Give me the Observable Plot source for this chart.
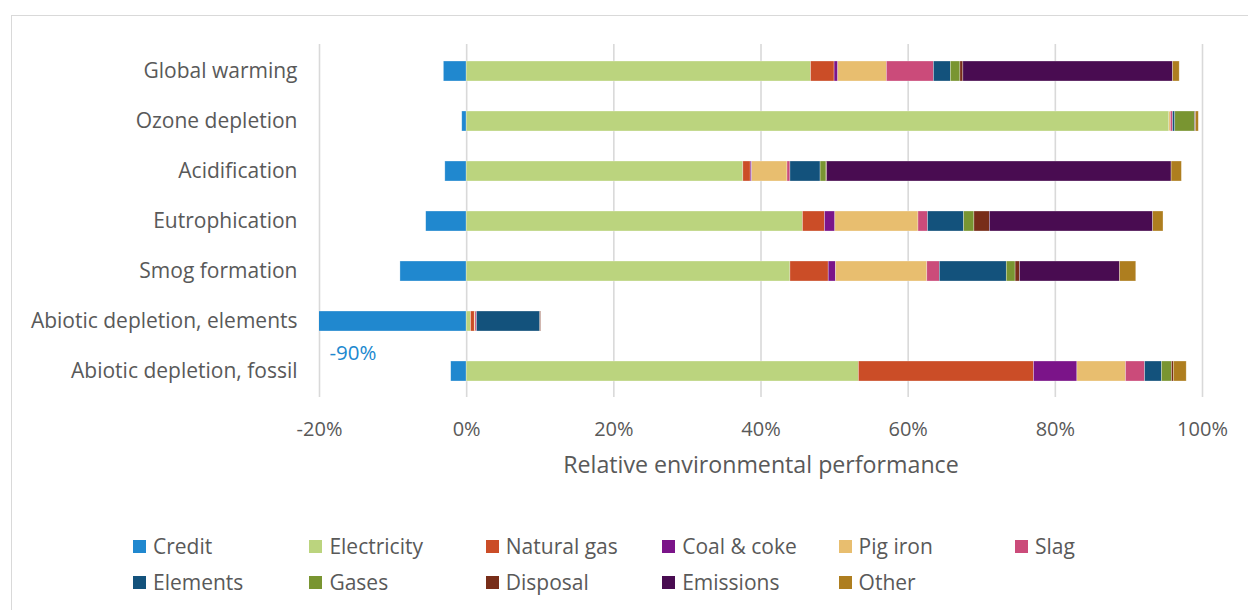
<!DOCTYPE html>
<html>
<head>
<meta charset="utf-8">
<script src="https://cdn.jsdelivr.net/npm/d3@7"></script>
<script src="https://cdn.jsdelivr.net/npm/@observablehq/plot@0.6"></script>
<style>
  html, body { margin: 0; padding: 0; background: #fff; }
  body { width: 1248px; height: 610px; position: relative; overflow: hidden; font-family: "Open Sans", Lato, sans-serif; }
  #frame { position: absolute; left: 11px; top: 15px; width: 1250px; height: 610px; border: 1.5px solid #d9d9d9; box-sizing: border-box; }
  #chart { position: absolute; left: 0; top: 0; }
  #legend { position: absolute; left: 0; top: 532px; width: 1248px; }
  .item { position: absolute; display: flex; align-items: center; font-size: 21px; color: #595959; white-space: nowrap; }
  .sw { width: 13px; height: 13px; margin-right: 7px; flex: none; }
</style>
</head>
<body>
<div id="frame"></div>
<div id="chart"></div>
<div id="legend"></div>
<script>
// Impact categories, top to bottom
const categories = [
  "Global warming",
  "Ozone depletion",
  "Acidification",
  "Eutrophication",
  "Smog formation",
  "Abiotic depletion, elements",
  "Abiotic depletion, fossil"
];

// Contribution groups, in stacking order
const series = ["Credit", "Electricity", "Natural gas", "Coal & coke", "Pig iron", "Slag",
                "Elements", "Gases", "Disposal", "Emissions", "Other"];
const colors = ["#2088cf", "#bbd47e", "#cb4d27", "#7b1489", "#e8be6f", "#cb4b7a",
                "#13527c", "#799531", "#782d19", "#490c51", "#ae7e1f"];

// Share of each group per category (%), one value per category
const credit      = [-3.1, -0.6, -2.9, -5.5, -9.0, -90, -2.1];
const electricity = [46.8, 95.5, 37.6, 45.7, 44.0, 0.6, 53.3];
const naturalGas  = [3.2, 0.0, 1.0, 3.0, 5.2, 0.5, 23.8];
const coalCoke    = [0.5, 0.0, 0.2, 1.4, 1.0, 0.0, 5.9];
const pigIron     = [6.6, 0.2, 4.8, 11.3, 12.4, 0.1, 6.6];
const slag        = [6.4, 0.3, 0.4, 1.3, 1.7, 0.2, 2.6];
const elements    = [2.3, 0.3, 4.1, 4.9, 9.1, 8.6, 2.3];
const gases       = [1.3, 2.7, 0.8, 1.4, 1.2, 0.0, 1.35];
const disposal    = [0.4, 0.0, 0.1, 2.1, 0.6, 0.1, 0.25];
const emissions   = [28.5, 0.1, 46.8, 22.2, 13.6, 0.0, 0.0];
const other       = [0.9, 0.4, 1.4, 1.4, 2.2, 0.0, 1.75];

const xTicks = [-20, 0, 20, 40, 60, 80, 100];
const axisTitle = "Relative environmental performance";

const valuesBySeries = [credit, electricity, naturalGas, coalCoke, pigIron, slag,
                        elements, gases, disposal, emissions, other];

// Long table: one row per category × group
const rows = [];
series.forEach((s, i) => {
  categories.forEach((c, j) => rows.push({category: c, series: s, value: valuesBySeries[i][j]}));
});

// Credits that run past the left edge of the axis get a value label
const xMin = xTicks[0];
const offScale = rows.filter(d => d.value < xMin);

const textColor = "#595959";
const fontFamily = "'Open Sans', Lato, sans-serif";

const chart = Plot.plot({
  width: 1248,
  height: 500,
  marginLeft: 319,
  marginRight: 46,
  marginTop: 44,
  marginBottom: 103,
  style: {fontFamily, fontSize: "20px", color: textColor, background: "transparent", overflow: "visible"},
  x: {domain: [xTicks[0], xTicks[xTicks.length - 1]]},
  y: {domain: categories, paddingInner: 0.6, paddingOuter: 0.3},
  color: {domain: series, range: colors},
  marks: [
    Plot.gridX(xTicks, {stroke: "#d9d9d9", strokeOpacity: 1, strokeWidth: 1.6}),
    Plot.barX(rows, Plot.stackX({
      x: "value", y: "category", fill: "series", order: series,
      stroke: "white", strokeWidth: 0.6, strokeOpacity: 0.5, clip: true
    })),
    Plot.axisY({tickSize: 0, tickPadding: 22, fontSize: 21, fill: textColor, label: null}),
    Plot.axisX(xTicks, {tickSize: 0, tickPadding: 24, fontSize: 20, fill: textColor,
                        tickFormat: d => d + "%", label: null}),
    Plot.text([axisTitle], {frameAnchor: "bottom", dy: 75, fontSize: 23.2, fill: textColor}),
    Plot.text(offScale, {x: () => xMin, y: "category", text: d => d.value + "%",
                         textAnchor: "start", dx: 10, dy: 32, fontSize: 20.5, fill: colors[0]})
  ]
});
document.getElementById("chart").appendChild(chart);

// Legend: two rows of six columns
const legend = document.getElementById("legend");
series.forEach((s, i) => {
  const col = i % 6, row = Math.floor(i / 6);
  const item = document.createElement("div");
  item.className = "item";
  item.style.left = (133 + col * 176.4) + "px";
  item.style.top = (row * 36) + "px";
  item.innerHTML = `<span class="sw" style="background:${colors[i]}"></span><span>${s}</span>`;
  legend.appendChild(item);
});
</script>
</body>
</html>
